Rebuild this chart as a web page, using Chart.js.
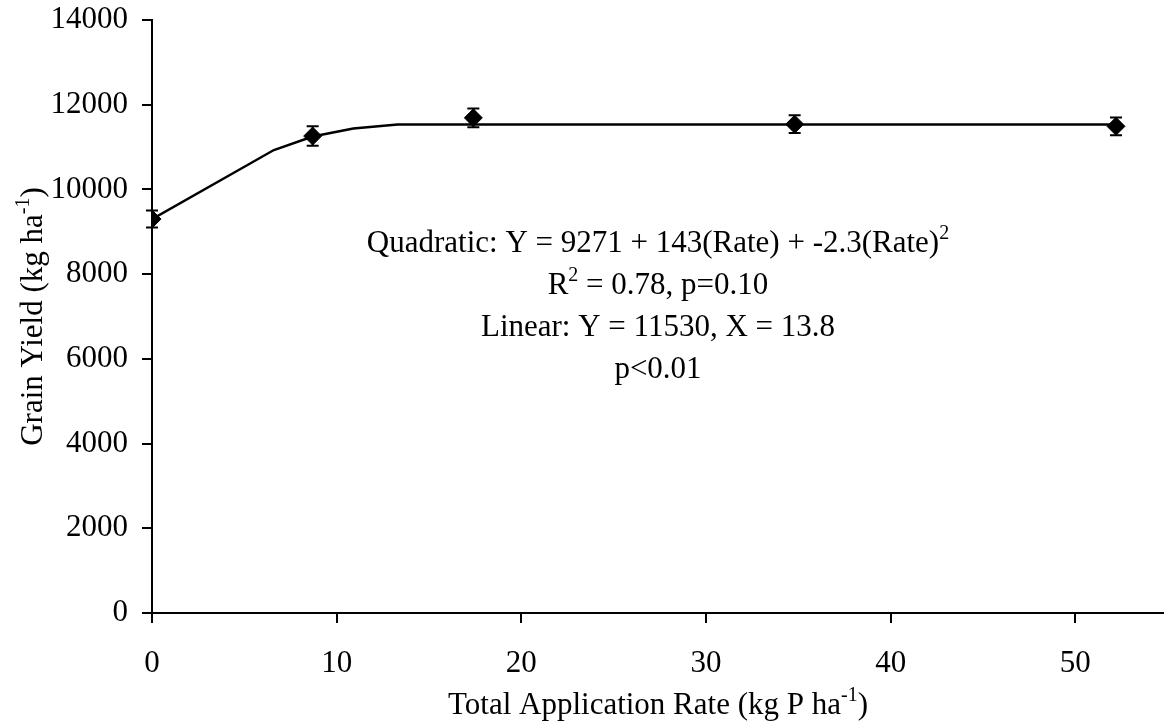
<!DOCTYPE html>
<html>
<head>
<meta charset="utf-8">
<script src="https://cdn.jsdelivr.net/npm/chart.js@4.4.0/dist/chart.umd.min.js"></script>
<style>
    html, body { margin: 0; padding: 0; background: #fff; }
    #wrap { width: 1164px; height: 721px; }
</style>
</head>
<body>
<div id="wrap"><canvas id="yieldChart" width="1164" height="721"></canvas></div>
<script>
// treatment means (kg P/ha vs kg/ha) with error bars
const rates = [0, 8.7, 17.4, 34.8, 52.2];
const yields = [9300, 11260, 11690, 11540, 11490];
const yieldErr = [200, 230, 220, 210, 210];

// fitted response line (quadratic then plateau)
const fitRates = [0, 6.6, 8.7, 10.9, 13.3, 52.2];
const fitYields = [9300, 10930, 11250, 11440, 11530, 11530];

const xTicks = [0, 10, 20, 30, 40, 50];
const yTicks = [0, 2000, 4000, 6000, 8000, 10000, 12000, 14000];

// text pieces: [text, isSuperscript]
const fitText = [
    [['Quadratic: Y = 9271 + 143(Rate) + -2.3(Rate)', false], ['2', true]],
    [['R', false], ['2', true], [' = 0.78, p=0.10', false]],
    [['Linear: Y = 11530, X = 13.8', false]],
    [['p<0.01', false]]
];
const xTitle = [['Total Application Rate (kg P ha', false], ['-1', true], [')', false]];
const yTitle = [['Grain Yield (kg ha', false], ['-1', true], [')', false]];

const FONT = 'Liberation Serif, Times New Roman, serif';
const SIZE = 31;
const SUP = 20;

function drawRich(ctx, parts, cx, baseline) {
    let total = 0;
    parts.forEach(p => {
        ctx.font = (p[1] ? SUP : SIZE) + 'px ' + FONT;
        total += ctx.measureText(p[0]).width;
    });
    let x = cx - total / 2;
    ctx.textAlign = 'left';
    ctx.textBaseline = 'alphabetic';
    parts.forEach(p => {
        ctx.font = (p[1] ? SUP : SIZE) + 'px ' + FONT;
        ctx.fillText(p[0], x, p[1] ? baseline - 13 : baseline);
        x += ctx.measureText(p[0]).width;
    });
}

const errorBars = {
    id: 'errorBars',
    afterDatasetsDraw(chart) {
        const ctx = chart.ctx;
        const xs = chart.scales.x;
        const ys = chart.scales.y;
        ctx.save();
        ctx.strokeStyle = '#000';
        ctx.lineWidth = 2;
        rates.forEach((r, i) => {
            const x = xs.getPixelForValue(r);
            const top = ys.getPixelForValue(yields[i] + yieldErr[i]);
            const bot = ys.getPixelForValue(yields[i] - yieldErr[i]);
            ctx.beginPath();
            ctx.moveTo(x, top);
            ctx.lineTo(x, bot);
            ctx.moveTo(x - 6, top);
            ctx.lineTo(x + 6, top);
            ctx.moveTo(x - 6, bot);
            ctx.lineTo(x + 6, bot);
            ctx.stroke();
        });
        ctx.restore();
    }
};

const labels = {
    id: 'labels',
    afterDraw(chart) {
        const ctx = chart.ctx;
        const area = chart.chartArea;
        const cx = (area.left + area.right) / 2;
        ctx.save();
        ctx.fillStyle = '#000';
        fitText.forEach((line, i) => {
            drawRich(ctx, line, cx, 252 + i * 42);
        });
        drawRich(ctx, xTitle, cx, 714);
        ctx.translate(42, (area.top + area.bottom) / 2);
        ctx.rotate(-Math.PI / 2);
        drawRich(ctx, yTitle, 0, 0);
        ctx.restore();
    }
};

const axisStyle = {
    grid: { drawOnChartArea: false, drawTicks: true, tickLength: 10, color: '#000', lineWidth: 2 },
    border: { display: true, color: '#000', width: 2 }
};

new Chart(document.getElementById('yieldChart'), {
    type: 'scatter',
    data: {
        datasets: [{
            type: 'scatter',
            data: rates.map((r, i) => ({ x: r, y: yields[i] })),
            pointStyle: 'rectRot',
            pointRadius: 9,
            backgroundColor: '#000',
            borderColor: '#000',
            borderWidth: 1,
            order: 0
        }, {
            type: 'line',
            data: fitRates.map((r, i) => ({ x: r, y: fitYields[i] })),
            borderColor: '#000',
            borderWidth: 2.5,
            pointRadius: 0,
            fill: false,
            tension: 0,
            order: 1
        }]
    },
    options: {
        responsive: false,
        animation: false,
        layout: { autoPadding: false, padding: { top: 20, right: 0, bottom: 0, left: 0 } },
        plugins: {
            legend: { display: false },
            tooltip: { enabled: false }
        },
        scales: {
            x: {
                type: 'linear',
                min: 0,
                max: 54.8,
                afterBuildTicks: s => { s.ticks = xTicks.map(v => ({ value: v })); },
                afterFit: s => { s.height = 108; s.paddingLeft = 0; s.paddingRight = 0; },
                ticks: { color: '#000', font: { family: FONT, size: SIZE }, padding: 22, maxRotation: 0, callback: v => String(v) },
                ...axisStyle
            },
            y: {
                type: 'linear',
                min: 0,
                max: 14000,
                afterBuildTicks: s => { s.ticks = yTicks.map(v => ({ value: v })); },
                afterFit: s => { s.width = 152; s.paddingTop = 0; s.paddingBottom = 0; },
                ticks: { color: '#000', font: { family: FONT, size: SIZE }, padding: 14, callback: v => String(v) },
                ...axisStyle
            }
        }
    },
    plugins: [errorBars, labels]
});
</script>
</body>
</html>
